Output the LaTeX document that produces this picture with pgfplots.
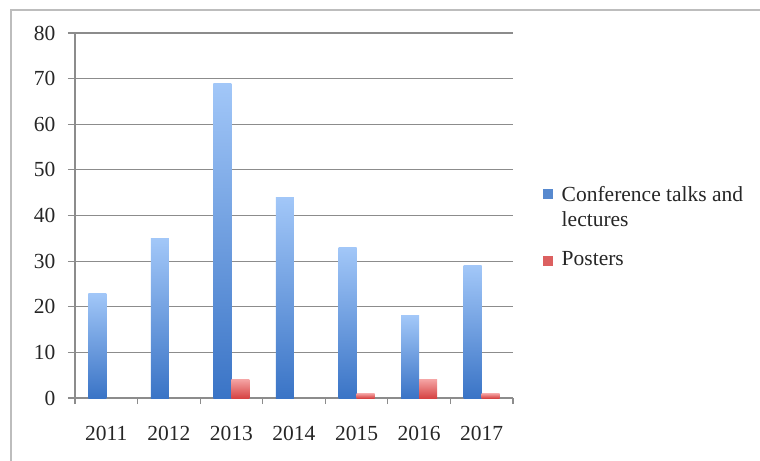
\documentclass[border=0pt]{standalone}
\usepackage{fontspec}
\setmainfont{Liberation Serif}
\usepackage{pgfplots}
\pgfplotsset{compat=1.18}

\definecolor{gridgray}{HTML}{8C8C8C}
\definecolor{framegray}{HTML}{BDBDBD}
\definecolor{blueTop}{HTML}{A2C7F8}
\definecolor{blueBot}{HTML}{3A74C6}
\definecolor{redTop}{HTML}{F4A2A2}
\definecolor{redBot}{HTML}{D64444}
\newcommand{\lab}{\fontsize{21.5bp}{25bp}\selectfont}

% one bar per \addplot, so that each bar gets its own gradient
\pgfplotsset{
  talks/.style={draw=none, top color=blueTop, bottom color=blueBot, bar shift=-9bp, forget plot},
  posters/.style={draw=none, top color=redTop, bottom color=redBot, bar shift=9bp, forget plot},
}

\begin{document}
\begin{tikzpicture}
\begin{axis}[
  scale only axis,
  width=438bp, height=365bp,
  xmin=-0.5, xmax=6.5,
  ymin=0, ymax=80,
  ybar, bar width=18bp,
  axis x line*=bottom, axis y line*=left,
  axis line style={draw=gridgray, line width=1.1bp},
  xtick={0,...,6},
  xticklabels={2011,2012,2013,2014,2015,2016,2017},
  major x tick style={draw=none},
  minor xtick={-0.5,0.5,...,6.5},
  ytick={0,10,...,80},
  ymajorgrids,
  grid style={draw=gridgray, line width=1.1bp},
  tick align=outside,
  major tick length=7bp, minor tick length=6bp,
  tick style={draw=gridgray, line width=1.1bp},
  tick label style={font=\lab, text=black!85},
  xticklabel style={yshift=-18bp},
  yticklabel style={xshift=-9bp},
  /pgf/number format/assume math mode=true,
  legend style={at={(1.062,0.59)}, anchor=north west, draw=none, fill=none,
    font=\lab, text=black!85, nodes={align=left, inner xsep=9bp}, row sep=19bp},
  legend cell align=left,
]
% Conference talks and lectures
\addplot[talks] coordinates {(0,23)};
\addplot[talks] coordinates {(1,35)};
\addplot[talks] coordinates {(2,69)};
\addplot[talks] coordinates {(3,44)};
\addplot[talks] coordinates {(4,33)};
\addplot[talks] coordinates {(5,18)};
\addplot[talks] coordinates {(6,29)};
% Posters
\addplot[posters] coordinates {(2,4)};
\addplot[posters] coordinates {(4,1)};
\addplot[posters] coordinates {(5,4)};
\addplot[posters] coordinates {(6,1)};

\addlegendimage{legend image code/.code={\fill[blueBot!85] (0bp,9bp) rectangle (9bp,18bp);}}
\addlegendentry{Conference talks and\\lectures}
\addlegendimage{legend image code/.code={\fill[redBot!85] (0bp,-6bp) rectangle (9bp,3bp);}}
\addlegendentry{Posters}
\end{axis}
\draw[framegray, line width=1.5bp] (-64bp,-80bp) -- (-64bp,388bp) -- (700bp,388bp);
\pgfresetboundingbox
\useasboundingbox (-75bp,-63bp) rectangle (685bp,398bp);
\end{tikzpicture}
\end{document}
